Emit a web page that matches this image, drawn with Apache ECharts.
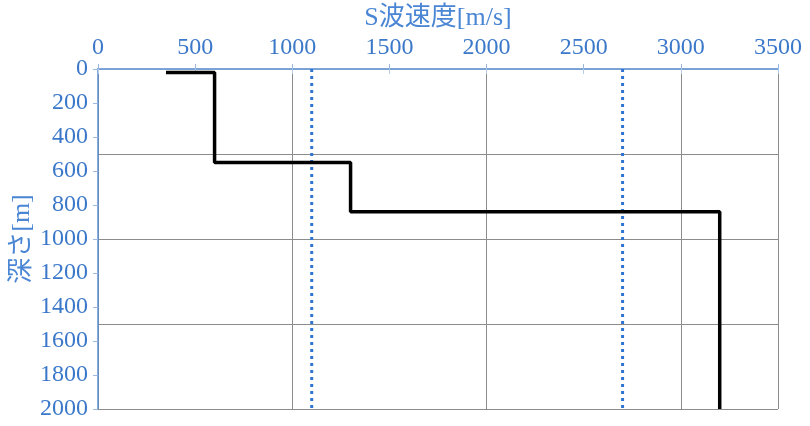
<!DOCTYPE html>
<html><head><meta charset="utf-8">
<script src="https://cdn.jsdelivr.net/npm/echarts@6/dist/echarts.min.js"></script>
<style>html,body{margin:0;padding:0;background:#fff}#c{width:810px;height:426px}</style>
</head><body><div id="c"></div>
<script>
const velocityProfile = [[350,20],[600,20],[600,550],[1300,550],[1300,840],[3200,840],[3200,2000]];
const refLine1 = [[1100,0],[1100,2000]];
const refLine2 = [[2700,0],[2700,2000]];
const xTitle = 'S波速度[m/s]';
const yTitle = '深さ[m]';

const FONT = '"Liberation Serif","Noto Sans CJK JP",serif';
const BLUE = '#3b78c9';
const plain = v => String(v);
const chart = echarts.init(document.getElementById('c'));
chart.setOption({
  animation:false,
  grid:{left:98,right:32,top:69,bottom:17,containLabel:false,outerBoundsMode:'none'},
  xAxis:[
    {type:'value',position:'top',min:0,max:3500,interval:500,
     name:xTitle,nameLocation:'middle',nameGap:38,nameMoveOverlap:false,
     nameTextStyle:{color:'#4a86d4',fontSize:26,fontFamily:FONT},
     axisLine:{show:true,lineStyle:{color:'#5b8fd0',width:1.5}},
     axisTick:{show:true,inside:false,length:5,lineStyle:{color:'#9bb9e0'}},
     axisLabel:{color:BLUE,fontSize:24,fontFamily:FONT,margin:9,formatter:plain},
     splitLine:{show:false}},
    {type:'value',position:'bottom',min:0,max:3500,interval:500,
     axisLine:{show:true,lineStyle:{color:'#7fa6da',width:1.5}},
     axisTick:{show:true,length:5,lineStyle:{color:'#b5cbe8'}},
     axisLabel:{show:false},splitLine:{show:false}},
    {type:'value',position:'bottom',min:0,max:3500,interval:1000,
     axisLine:{show:false},axisTick:{show:false},axisLabel:{show:false},
     splitLine:{show:true,lineStyle:{color:'#8c8c8c',width:1}}}
  ],
  yAxis:[
    {type:'value',inverse:true,min:0,max:2000,interval:200,
     name:yTitle,nameLocation:'middle',nameGap:63,nameRotate:90,nameMoveOverlap:false,
     nameTextStyle:{color:'#4a86d4',fontSize:26,fontFamily:FONT},
     axisLine:{show:true,lineStyle:{color:'#5b8fd0',width:1.5}},
     axisTick:{show:true,length:5,lineStyle:{color:'#9bb9e0'}},
     axisLabel:{color:BLUE,fontSize:24,fontFamily:FONT,margin:10,formatter:plain},
     splitLine:{show:false}},
    {type:'value',inverse:true,min:0,max:2000,interval:500,position:'left',
     axisLine:{show:false},axisTick:{show:false},axisLabel:{show:false},
     splitLine:{show:true,lineStyle:{color:'#8c8c8c',width:1}}}
  ],
  series:[
    {type:'line',xAxisIndex:0,yAxisIndex:0,data:velocityProfile,symbol:'none',
     lineStyle:{color:'#000',width:3.5},z:5},
    {type:'line',xAxisIndex:0,yAxisIndex:0,data:refLine1,symbol:'none',
     lineStyle:{color:'#2f74d0',width:3,type:[3,4]},z:4},
    {type:'line',xAxisIndex:0,yAxisIndex:0,data:refLine2,symbol:'none',
     lineStyle:{color:'#2f74d0',width:3,type:[3,4]},z:4}
  ]
});
</script></body></html>
